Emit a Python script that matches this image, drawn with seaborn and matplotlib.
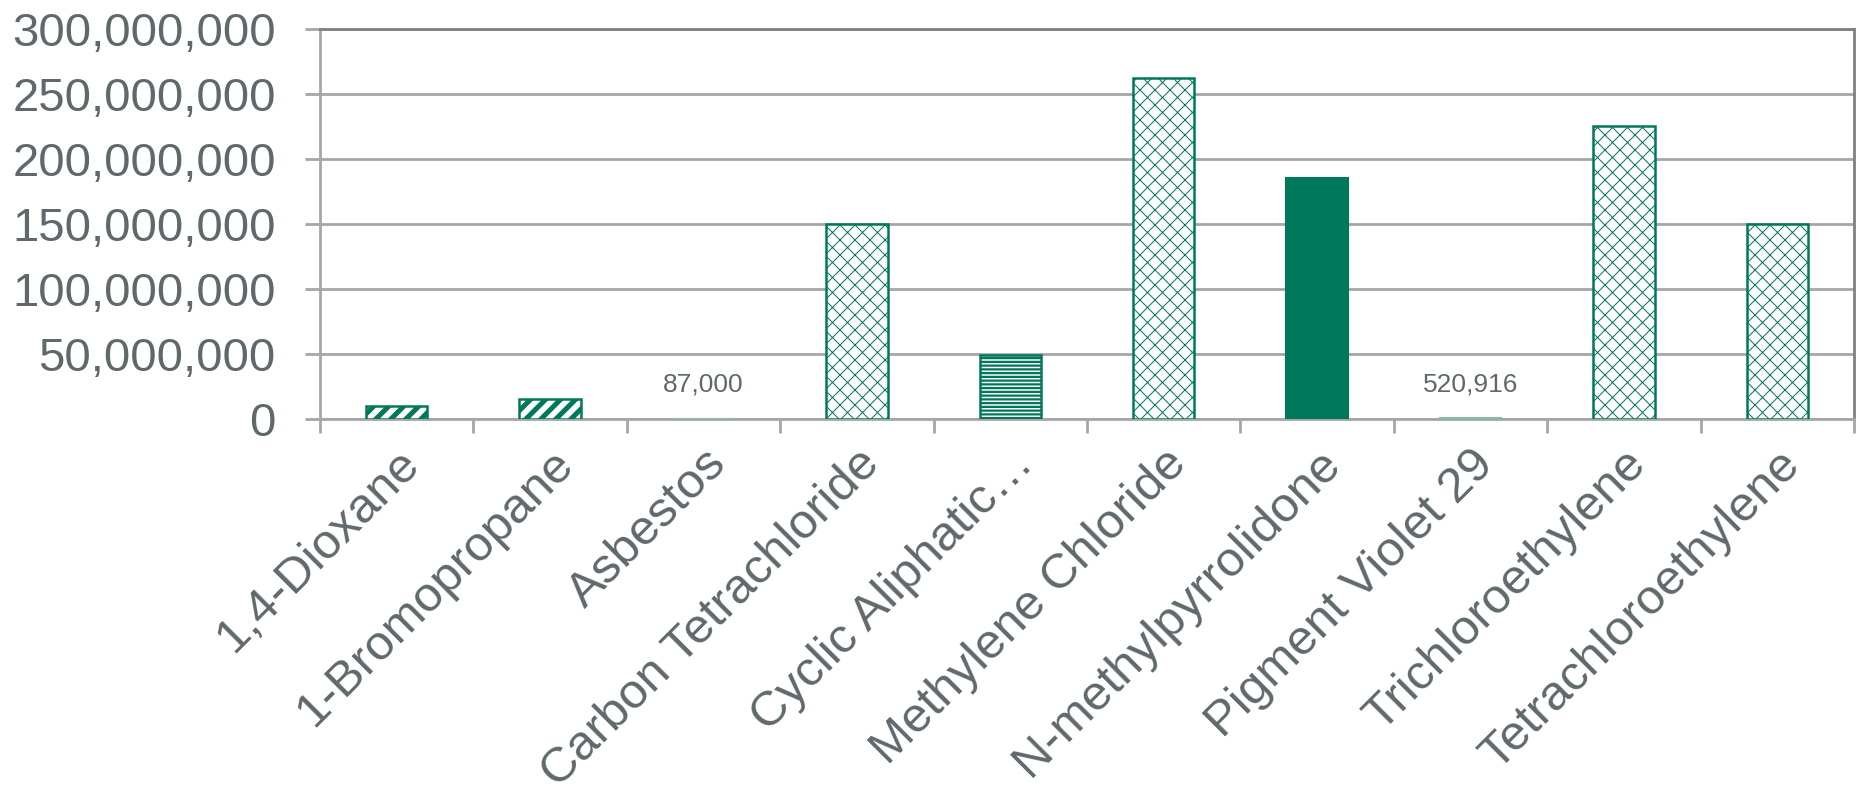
import matplotlib
matplotlib.use("Agg")
import matplotlib.pyplot as plt
import matplotlib.ticker as mticker
from matplotlib.transforms import ScaledTranslation
import seaborn as sns
import pandas as pd

categories = ["1,4-Dioxane", "1-Bromopropane", "Asbestos", "Carbon Tetrachloride",
              "Cyclic Aliphatic…", "Methylene Chloride", "N-methylpyrrolidone",
              "Pigment Violet 29", "Trichloroethylene", "Tetrachloroethylene"]
values = [10_000_000, 15_000_000, 87_000, 150_000_000, 49_000_000,
          262_000_000, 185_000_000, 520_916, 225_000_000, 150_000_000]
hatches = ["//", "//", "", "xx", "----", "xx", "", "", "xx", "xx"]
labelled = {"Asbestos": "87,000", "Pigment Violet 29": "520,916"}
yticks = [0, 50_000_000, 100_000_000, 150_000_000, 200_000_000, 250_000_000, 300_000_000]

GREEN = "#00785c"
LIGHT = "#7fbfae"
GRAY_TXT = "#5f686b"
GRID = "#a6a6a6"
FRAME = "#808080"

DPI = 90
S = 100 / DPI  # sizes below are given as if drawn at 100 dpi

sns.set_theme(style="white")
plt.rcParams["font.family"] = ["Liberation Sans", "DejaVu Sans"]
plt.rcParams["hatch.linewidth"] = 0.8

fig = plt.figure(figsize=(1860 / DPI, 801 / DPI), dpi=DPI)
ax = fig.add_axes([0.172, 0.477, 0.8248, 0.4874])

df = pd.DataFrame({"cat": categories, "val": values})
sns.barplot(data=df, x="cat", y="val", color=GREEN, width=0.4, ax=ax, zorder=3)


def with_hatch_lw(patch, lw):
    """Draw this patch with its own hatch line width."""
    if hasattr(patch, "set_hatch_linewidth"):
        patch.set_hatch_linewidth(lw)
    orig = patch.draw

    def draw(renderer):
        with plt.rc_context({"hatch.linewidth": lw}):
            orig(renderer)
    patch.draw = draw


for p, cat, h in zip(ax.patches, categories, hatches):
    if cat in labelled:
        p.set_facecolor(LIGHT)
        p.set_edgecolor(LIGHT)
        p.set_linewidth(1.5 * S)
    elif h == "":
        p.set_facecolor(GREEN)
        p.set_edgecolor(GREEN)
        p.set_linewidth(1.5 * S)
    else:
        p.set_facecolor("white")
        p.set_edgecolor(GREEN)
        p.set_hatch(h)
        p.set_linewidth(1.8 * S)
        if h.startswith("/"):
            with_hatch_lw(p, 4.0)
        elif h.startswith("-"):
            with_hatch_lw(p, 1.8)
        else:
            with_hatch_lw(p, 0.8)

for i, (cat, v) in enumerate(zip(categories, values)):
    if cat in labelled:
        ax.annotate(labelled[cat], xy=(i, v), xytext=(0, 16 * S), textcoords="offset points",
                    ha="center", va="bottom", fontsize=19 * S, color=GRAY_TXT)

ax.set_ylim(0, 300_000_000)
ax.set_xlim(-0.5, len(categories) - 0.5)
ax.set_yticks(yticks)
ax.yaxis.set_major_formatter(mticker.FuncFormatter(lambda v, p: f"{int(v):,}"))
ax.grid(axis="y", color=GRID, linewidth=2 * S, zorder=0)
ax.set_axisbelow(True)
ax.set_xlabel("")
ax.set_ylabel("")

for name, s in ax.spines.items():
    s.set_visible(True)
    s.set_linewidth(2 * S)
    s.set_color(FRAME if name in ("top", "right") else GRID)

ax.set_xticks(range(len(categories)))
ax.set_xticklabels(categories, rotation=45, ha="right", rotation_mode="anchor",
                   fontsize=35.5 * S, color=GRAY_TXT)
shift = ScaledTranslation(-15 / DPI, 0, fig.dpi_scale_trans)
for lab in ax.get_xticklabels():
    lab.set_transform(lab.get_transform() + shift)
ax.set_xticks([i - 0.5 for i in range(len(categories) + 1)], minor=True)
ax.tick_params(axis="x", which="major", length=0, pad=16 * S)
ax.tick_params(axis="x", which="minor", length=10 * S, width=2 * S, color=GRID, bottom=True)
ax.tick_params(axis="y", which="major", length=10.8 * S, width=2 * S, color=GRID, left=True,
               labelsize=34 * S, labelcolor=GRAY_TXT, pad=21 * S)

fig.savefig("out.png", dpi=DPI, facecolor="white")
